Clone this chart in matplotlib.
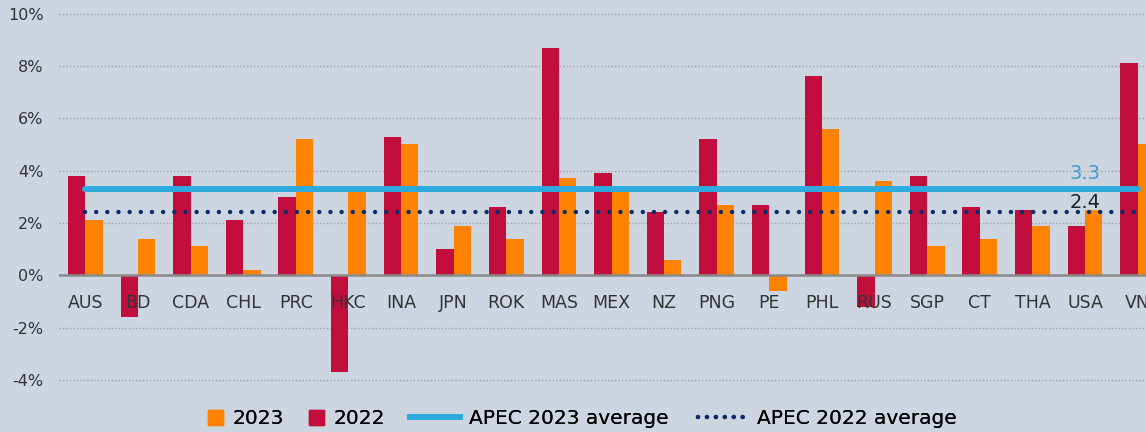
import numpy as np
import matplotlib.pyplot as plt
from matplotlib.patches import Patch
from matplotlib.lines import Line2D

# Economies and growth rates (%)
economies = ["AUS", "BD", "CDA", "CHL", "PRC", "HKC", "INA", "JPN", "ROK", "MAS", "MEX",
             "NZ", "PNG", "PE", "PHL", "RUS", "SGP", "CT", "THA", "USA", "VN"]
growth_2022 = [3.8, -1.6, 3.8, 2.1, 3.0, -3.7, 5.3, 1.0, 2.6, 8.7, 3.9,
               2.4, 5.2, 2.7, 7.6, -1.2, 3.8, 2.6, 2.5, 1.9, 8.1]
growth_2023 = [2.1, 1.4, 1.1, 0.2, 5.2, 3.2, 5.0, 1.9, 1.4, 3.7, 3.2,
               0.6, 2.7, -0.6, 5.6, 3.6, 1.1, 1.4, 1.9, 2.5, 5.0]
apec_avg_2023 = 3.3
apec_avg_2022 = 2.4
yticks = [-4, -2, 0, 2, 4, 6, 8, 10]

bg = "#cdd5e1"
c2022 = "#c10e3d"
c2023 = "#ff8300"
c_avg23 = "#2eaadf"
c_avg22 = "#0c2b6b"

plt.rcParams['font.family'] = ['DejaVu Sans']

W, H = 1146, 432
fig = plt.figure(figsize=(W / 100, H / 100), dpi=100, facecolor=bg)
# axes runs past the right edge of the figure (the reference is cropped there)
y_top, y_bot = 8.3, 385.2
ax = fig.add_axes([59 / W, 1 - y_bot / H, (1164 - 59) / W, (y_bot - y_top) / H])
ax.set_facecolor(bg)

x = np.arange(len(economies))
w = 0.33
ax.bar(x - w / 2, growth_2022, w, color=c2022, zorder=3)
ax.bar(x + w / 2, growth_2023, w, color=c2023, zorder=3)

ax.axhline(0, color="#8a8a8a", lw=1.8, zorder=4)
ax.plot([x[0], x[-1]], [apec_avg_2023] * 2, color=c_avg23, lw=4.3,
        solid_capstyle="round", zorder=5)
ax.plot([x[0], x[-1]], [apec_avg_2022] * 2, color=c_avg22, lw=3.2,
        linestyle=(0, (0.01, 2.5)), dash_capstyle="round", zorder=5)

ax.annotate(f"{apec_avg_2023:.1f}", (x[-2], apec_avg_2023), xytext=(0, 11),
            textcoords="offset points", ha="center", va="center",
            color="#3a9fca", fontsize=14, zorder=6)
ax.annotate(f"{apec_avg_2022:.1f}", (x[-2], apec_avg_2022), xytext=(0, 7.5),
            textcoords="offset points", ha="center", va="center",
            color="#222222", fontsize=14, zorder=6)

for i, lab in enumerate(economies):
    ax.annotate(lab, (x[i], 0), xytext=(0, -20), textcoords="offset points",
                ha="center", va="center", color="#333333", fontsize=12.5, zorder=6)

ax.set_xlim(-0.5, len(economies) - 0.5)
ax.set_ylim(-4.2, 10.2)
ax.set_yticks(yticks)
ax.set_yticklabels([f"{v}%" for v in yticks], color="#333333", fontsize=11.5)
ax.set_xticks([])
ax.tick_params(axis="y", length=0, pad=11)
ax.grid(axis="y", color="#a0a0a0", linestyle=(0, (1, 1.5)), lw=1, zorder=0)
for s in ax.spines.values():
    s.set_visible(False)

# legend: one small legend per entry so each handle can have its own width
entries = [
    (Patch(color=c2023), "2023", 208, 0.75),
    (Patch(color=c2022), "2022", 309, 0.75),
    (Line2D([], [], color=c_avg23, lw=4.3), "APEC 2023 average", 410, 2.5),
    (Line2D([], [], color=c_avg22, lw=3.2, linestyle=(0, (0.01, 2.0)),
            dash_capstyle="round"), "APEC 2022 average", 698, 2.5),
]
for handle, label, px, hl in entries:
    leg = fig.legend([handle], [label], loc="center left",
                     bbox_to_anchor=(px / W, 1 - 419 / H), frameon=False,
                     fontsize=14.5, handlelength=hl, handleheight=0.75,
                     handletextpad=0.45, borderpad=0, borderaxespad=0)
    fig.add_artist(leg)

fig.savefig("out.png", dpi=100, facecolor=bg)
